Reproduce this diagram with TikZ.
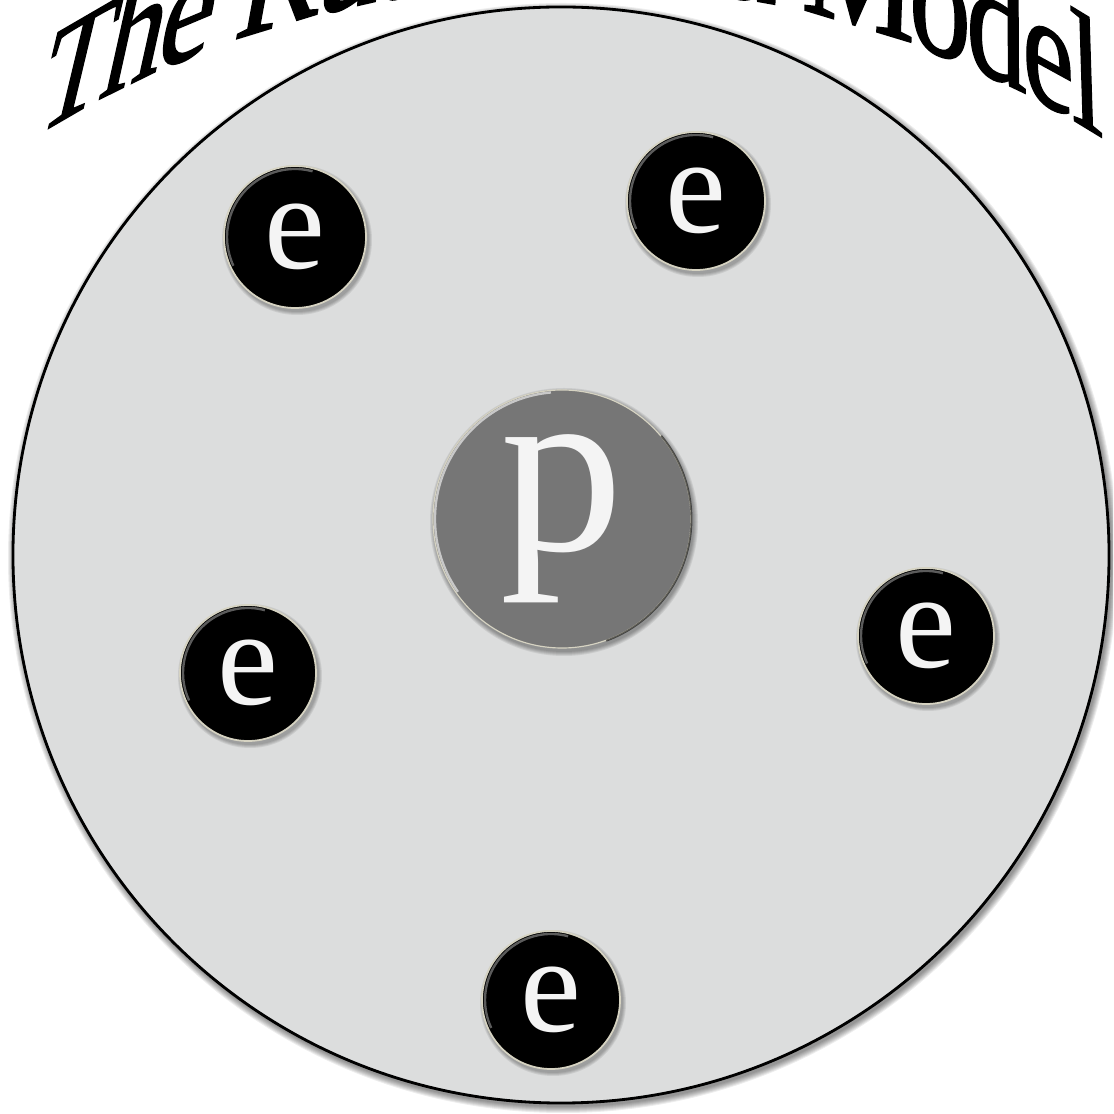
\documentclass[tikz,border=0pt]{standalone}
\usepackage{fontspec}
\newfontfamily\lserif{Liberation Serif}
\newfontfamily\titlefont{Liberation Serif}[FakeBold=1.2]
\definecolor{disc}{HTML}{DCDDDD}
\definecolor{nuc}{HTML}{767676}
\definecolor{rim}{HTML}{D6D3C2}
\definecolor{glyph}{HTML}{F4F4F4}
\newcommand\ringshadow[5]{% x, y, r, rings, opacity
  \foreach \k in {1,...,#4}{\fill[black,opacity=#5] (#1+2,#2-3) circle ({#3+\k*1.0});}
}
\begin{document}
\begin{tikzpicture}[x=0.03cm,y=0.03cm,
  titlechar/.style={anchor=base, inner sep=0pt, outer sep=0pt, font=\titlefont\fontsize{108pt}{108pt}\selectfont},
  atomdisc/.style={circle, fill=disc, draw=black, line width=2.4pt, minimum size=32.88cm, inner sep=0pt},
  nucleus/.style={circle, fill=nuc, draw=rim, line width=1pt, minimum size=7.74cm, inner sep=0pt, text=glyph, font=\lserif\fontsize{210pt}{210pt}\selectfont},
  electron/.style={circle, fill=black, draw=rim, line width=1.5pt, minimum size=#1, inner sep=0pt, text=glyph, font=\lserif\fontsize{117pt}{117pt}\selectfont},
  hilite/.style={line width=2pt, opacity=0.6}]
\useasboundingbox (0,0) rectangle (1113,1114);
\clip (0,0) rectangle (1113,1114);
\fill[white] (0,0) rectangle (1113,1114);
% arched title
\foreach \ch/\u/\w [count=\i] in {T/0/0.611, h/0.611/0.5, e/1.111/0.444, R/1.805/0.667, u/2.472/0.5, t/2.972/0.278, h/3.25/0.5, e/3.75/0.444, r/4.194/0.333, f/4.527/0.333, o/4.86/0.5, r/5.36/0.333, d/5.693/0.5, M/6.443/0.889, o/7.332/0.5, d/7.832/0.5, e/8.332/0.444, l/8.776/0.278}{
  \pgfmathsetmacro\uc{\u+\w/2}
  \pgfmathsetmacro\al{7.14*(\uc-4.527)}
  \pgfmathsetmacro\ta{14-16*\uc/9.054}
  \pgfmathsetmacro\px{568+1000*sin(\al)}
  \pgfmathsetmacro\py{131+1000*cos(\al)}
  \pgfmathsetmacro\ma{1.05*cos(\al)}
  \pgfmathsetmacro\mb{-1.05*sin(\al)}
  \pgfmathsetmacro\mc{1.3*sin(\ta)}
  \pgfmathsetmacro\md{1.3*cos(\ta)}
  \begin{scope}[shift={(\px,\py)}, cm={\ma,\mb,\mc,\md,(0,0)}]
    \node[titlechar, transform shape] (t\i) at (0,0) {\ch};
  \end{scope}
}
% atom disc
\ringshadow{561}{559}{548}{7}{0.07}
\node[atomdisc] (atom) at (561,559) {};
% nucleus
\ringshadow{562}{595}{129}{5}{0.08}
\node[nucleus] (p) at (562,595) {p};
\draw[hilite, white] ([shift={(95:127)}]p.center) arc[start angle=95, end angle=215, radius=127];
\draw[line width=1.6pt, black, opacity=0.55] ([shift={(-70:129.5)}]p.center) arc[start angle=-70, end angle=40, radius=129.5];
% electrons
\ringshadow{295}{877}{71}{4}{0.08}
\node[electron=4.26cm] (e1) at (295,877) {e};
\ringshadow{696}{913}{69}{4}{0.08}
\node[electron=4.14cm] (e2) at (696,913) {e};
\ringshadow{248}{441}{68}{4}{0.08}
\node[electron=4.08cm] (e3) at (248,441) {e};
\ringshadow{926}{478}{68}{4}{0.08}
\node[electron=4.08cm] (e4) at (926,478) {e};
\ringshadow{551}{114}{69}{4}{0.08}
\node[electron=4.14cm] (e5) at (551,114) {e};
\foreach \n/\r in {e1/68, e2/66, e3/65, e4/65, e5/66}{
  \draw[hilite, gray!80] ([shift={(75:\r)}]\n.center) arc[start angle=75, end angle=205, radius=\r];
}
\end{tikzpicture}
\end{document}
